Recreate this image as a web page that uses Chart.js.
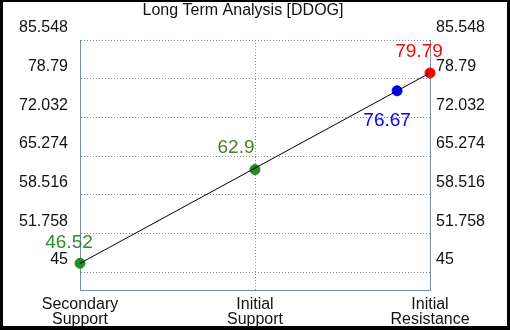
<!DOCTYPE html>
<html>
<head>
<meta charset="utf-8">
<script src="https://cdn.jsdelivr.net/npm/chart.js@4/dist/chart.umd.min.js"></script>
<style>
  html, body { margin: 0; padding: 0; background: #fff; }
  canvas { display: block; }
</style>
</head>
<body>
<canvas id="chart" width="510" height="330"></canvas>
<script>
// data
const chartTitle = 'Long Term Analysis [DDOG]';
const xLabels = [['Secondary', 'Support'], ['Initial', 'Support'], ['Initial', 'Resistance']];
const yTicks = [45, 51.758, 58.516, 65.274, 72.032, 78.79, 85.548];
const yMin = 41.86;
const yMax = 85.548;

// trend line ends
const lineX = [0, 2];
const lineY = [46.52, 79.79];

// labelled points
const pointX = [0, 1, 1.812, 2];
const pointY = [46.52, 62.9, 76.67, 79.79];
const pointColors = ['#228b22', '#228b22', '#0000ff', '#ff0000'];
const labelColors = ['#2a8f2a', '#4b7d22', '#0000ff', '#ff0000'];
const labelOffsets = [[-11, -21], [-19, -22], [-10, 30], [-11, -21]];

const gridColor = '#7a8bb0';
const font = "'Liberation Sans', Arial, sans-serif";

// frame, title and value labels
const decoPlugin = {
    id: 'deco',
    beforeDraw(chart) {
        const ctx = chart.ctx;
        ctx.save();
        ctx.fillStyle = '#000';
        ctx.fillRect(0, 0, 510, 330);
        ctx.fillStyle = '#fff';
        ctx.fillRect(3, 2, 504, 324);
        ctx.restore();
    },
    afterDraw(chart) {
        const ctx = chart.ctx;
        ctx.save();
        ctx.fillStyle = '#111';
        ctx.font = '16px ' + font;
        ctx.textAlign = 'center';
        ctx.textBaseline = 'middle';
        ctx.fillText(chartTitle, 243, 11);

        const meta = chart.getDatasetMeta(1);
        ctx.font = '19px ' + font;
        meta.data.forEach((pt, i) => {
            ctx.fillStyle = labelColors[i];
            ctx.fillText(String(pointY[i]), pt.x + labelOffsets[i][0], pt.y + labelOffsets[i][1]);
        });
        ctx.restore();
    }
};

const setTicks = scale => {
    scale.ticks = yTicks.map(v => ({ value: v }));
};

new Chart(document.getElementById('chart'), {
    type: 'scatter',
    data: {
        datasets: [
            {
                type: 'line',
                data: lineX.map((x, i) => ({ x: x, y: lineY[i] })),
                borderColor: '#000',
                borderWidth: 1,
                pointRadius: 0,
                fill: false,
                clip: false
            },
            {
                data: pointX.map((x, i) => ({ x: x, y: pointY[i] })),
                backgroundColor: pointColors,
                borderColor: pointColors,
                pointRadius: 5,
                clip: false
            }
        ]
    },
    options: {
        responsive: false,
        animation: false,
        layout: { padding: { top: 40, left: 0, right: 0, bottom: 0 } },
        plugins: {
            legend: { display: false },
            title: { display: false },
            tooltip: { enabled: false }
        },
        scales: {
            x: {
                type: 'linear',
                min: 0,
                max: 2,
                afterFit: s => { s.height = 40; },
                ticks: {
                    stepSize: 1,
                    padding: 8,
                    color: '#111',
                    font: { family: font, size: 16, lineHeight: 0.88 },
                    callback: v => xLabels[v]
                },
                grid: { color: gridColor, drawTicks: false },
                border: { color: gridColor, width: 1, dash: [1, 2] }
            },
            y: {
                position: 'left',
                min: yMin,
                max: yMax,
                afterBuildTicks: setTicks,
                afterFit: s => { s.width = 80; },
                ticks: {
                    padding: 12,
                    labelOffset: -12,
                    color: '#111',
                    font: { family: font, size: 16 },
                    callback: v => String(v)
                },
                grid: { color: gridColor, drawTicks: false },
                border: { color: gridColor, width: 1, dash: [1, 2] }
            },
            y2: {
                position: 'right',
                min: yMin,
                max: yMax,
                afterBuildTicks: setTicks,
                afterFit: s => { s.width = 80; },
                ticks: {
                    padding: 6,
                    labelOffset: -12,
                    color: '#111',
                    font: { family: font, size: 16 },
                    callback: v => String(v)
                },
                grid: { display: false, drawTicks: false },
                border: { color: gridColor, width: 1 }
            }
        }
    },
    plugins: [decoPlugin]
});
</script>
</body>
</html>
